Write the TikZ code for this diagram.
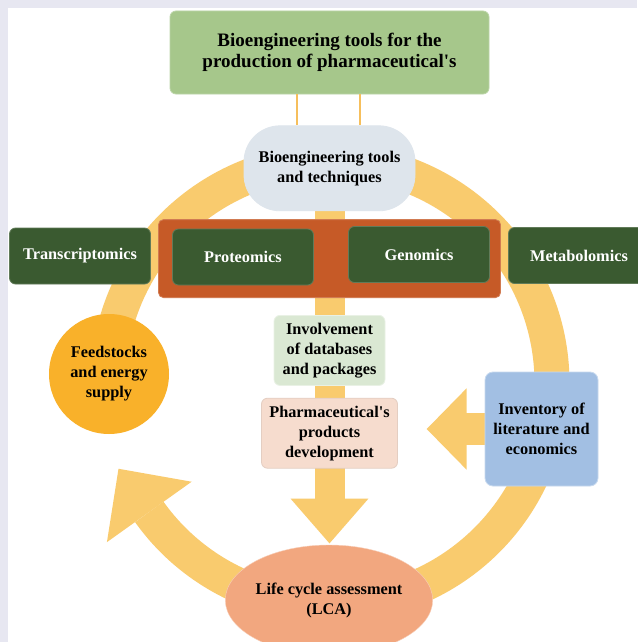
\documentclass[tikz,border=0pt]{standalone}
\usepackage{fontspec}
\setmainfont{Liberation Serif}
\usepackage{xcolor}
\usepackage{tikz}
\usetikzlibrary{arrows.meta,positioning,backgrounds,calc,shapes.geometric}
\definecolor{panelgray}{HTML}{E7E7F1}
\definecolor{titlegreen}{HTML}{A6C78B}
\definecolor{toolgray}{HTML}{DEE5EC}
\definecolor{ringyellow}{HTML}{F9CB6E}
\definecolor{linkorange}{HTML}{F6BF5C}
\definecolor{rust}{HTML}{C65A27}
\definecolor{omicgreen}{HTML}{3A5A30}
\definecolor{feedorange}{HTML}{F9B12A}
\definecolor{dbgreen}{HTML}{DAE8D3}
\definecolor{devpink}{HTML}{F6DCCE}
\definecolor{invblue}{HTML}{A2BFE3}
\definecolor{lcasalmon}{HTML}{F2A77F}
\begin{document}
\begin{tikzpicture}[
 x=1pt,y=-1pt,
 font=\fontsize{16.3}{20}\selectfont\bfseries,
 box/.style={rounded corners=6pt,align=center,inner sep=0pt,line width=0.8pt},
 omic/.style={box,fill=omicgreen,draw=omicgreen!80!white,text=white,minimum width=141pt,minimum height=56pt},
 ringarc/.style={draw=ringyellow,line width=35pt},
 bigarrow/.style={draw=ringyellow,line width=#1},
 link/.style={draw=linkorange,line width=1.4pt}
]
\useasboundingbox (0,0) rectangle (637,642);
\node[box,fill=titlegreen,draw=titlegreen!75!white,minimum width=319pt,minimum height=83pt,font=\fontsize{19}{21.5}\selectfont\bfseries] (title) at (329.5,52.5) {Bioengineering tools for the\\production of pharmaceutical\textquotesingle s};
\node[box,fill=toolgray,draw=toolgray,rounded corners=36pt,minimum width=171pt,minimum height=85pt,below=31pt of title] (tools) {Bioengineering tools\\and techniques};
\node[box,fill=rust,draw=rust!80!white,rounded corners=5pt,minimum width=342pt,minimum height=78pt,below=8pt of tools] (core) {};
\node[omic] (prot) at (243,257) {Proteomics};
\node[omic] (gen) at (419,254.5) {Genomics};
\node[omic] (trans) at (80,256) {Transcriptomics};
\node[omic] (metab) at (579,255.5) {Metabolomics};
\node[circle,fill=feedorange,minimum size=120pt,inner sep=0pt,align=center] (feed) at (109,374) {Feedstocks\\and energy\\supply};
\node[box,fill=dbgreen,draw=dbgreen!60!white,minimum width=111pt,minimum height=70pt,below=17pt of core] (dbase) {Involvement\\of databases\\and packages};
\node[box,fill=devpink,draw=devpink!85!gray,minimum width=136pt,minimum height=70pt,below=12pt of dbase] (devel) {Pharmaceutical\textquotesingle s\\products\\development};
\node[box,fill=invblue,draw=invblue!60!white,rounded corners=8pt,minimum width=113pt,minimum height=114pt] (invent) at (541.5,429) {Inventory of\\literature and\\economics};
\node[ellipse,fill=lcasalmon,draw=lcasalmon!55!white,minimum width=162pt,minimum height=110pt,inner sep=0pt,align=center] (lca) at (329,600) {Life cycle assessment\\(LCA)};
\draw[link] ([xshift=-32.5pt]title.south) -- ([xshift=-32.5pt]title.south |- tools.north);
\draw[link] ([xshift=30.5pt]title.south) -- ([xshift=30.5pt]title.south |- tools.north);
\begin{scope}[on background layer]
\fill[panelgray] (0,0) rectangle (637,642);
\fill[white] (8,8) rectangle (637,642);
\coordinate (hub) at (330,383);
\draw[ringarc] (hub) ++(90:222) arc[start angle=90,end angle=-185,radius=222];
\draw[ringarc] (hub) ++(90:222) arc[start angle=90,end angle=144.5,radius=222];
\fill[ringyellow] ($(hub)+(144.5:170)$) -- ($(hub)+(144.5:274)$) -- ($(hub)+(144.5:222)+(234.5:53)$) -- cycle;
\draw[bigarrow=30pt,-{Triangle[width=75pt,length=45pt]}] (tools) -- ([yshift=-75pt]devel.south);
\draw[bigarrow=32pt,-{Triangle[width=79pt,length=40pt]}] (invent) -- ([xshift=-58pt]invent.west);
\end{scope}
\end{tikzpicture}
\end{document}
